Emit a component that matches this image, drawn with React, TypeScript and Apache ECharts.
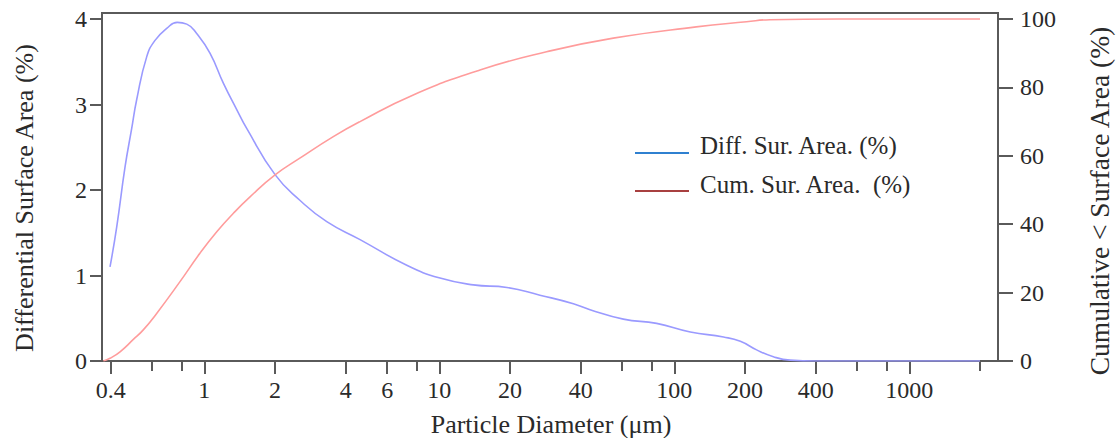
import React, { useEffect, useRef } from "react";
import * as echarts from "echarts";

// Differential surface area (%) vs particle diameter (um)
const diffDiameters = [0.397, 0.424, 0.46, 0.491, 0.515, 0.569, 0.617, 0.692, 0.767, 0.842, 0.928, 1.057, 1.205, 1.374, 1.515, 2.0, 2.55, 3.32, 4.6, 7.27, 10.07, 13.96, 19.4, 26.8, 37.2, 43.8, 60.7, 84.1, 117, 162, 191, 224, 264, 311, 400, 1000, 2000];
const diffValues = [1.1, 1.57, 2.27, 2.72, 3.05, 3.56, 3.75, 3.89, 3.96, 3.94, 3.83, 3.6, 3.25, 2.94, 2.72, 2.18, 1.88, 1.63, 1.42, 1.12, 0.97, 0.89, 0.86, 0.77, 0.67, 0.6, 0.49, 0.44, 0.34, 0.28, 0.23, 0.13, 0.05, 0.01, 0, 0, 0];

// Cumulative < surface area (%)
const cumDiameters = [0.372, 0.397, 0.438, 0.499, 0.55, 0.627, 0.788, 0.958, 1.13, 1.33, 1.565, 2.0, 2.55, 3.54, 4.6, 7.75, 14.9, 28.6, 55, 124, 203, 255, 500, 1000, 2000];
const cumValues = [0, 0.8, 2.7, 6.3, 9.1, 13.9, 23.2, 31.5, 37.8, 43.2, 48.0, 54.4, 59.3, 65.6, 70.0, 77.8, 85.1, 90.4, 94.4, 97.7, 99.2, 99.8, 100, 100, 100];

const xLabelTicks = [0.4, 1, 2, 4, 6, 10, 20, 40, 100, 200, 400, 1000];
const xMinorTicks = [0.6, 0.8, 8, 60, 80, 600, 800, 2000];
const leftTicks = [0, 1, 2, 3, 4];
const rightTicks = [0, 20, 40, 60, 80, 100];

const seriesNames = ["Diff. Sur. Area. (%)", "Cum. Sur. Area.  (%)"];
const xTitle = "Particle Diameter (\u03bcm)";
const leftTitle = "Differential Surface Area (%)";
const rightTitle = "Cumulative < Surface Area (%)";

const W = 1117;
const H = 438;
const gridLeft = 102;
const gridRight = 998;
const gridTop = 13;
const gridBottom = 361;
const decadePx = 235;
const onePx = 204.3;
const xMin = (gridLeft - onePx) / decadePx;
const xMax = (gridRight - onePx) / decadePx;
const y4Px = 19;
const leftMax = 4 * (gridBottom - gridTop) / (gridBottom - y4Px);
const rightMax = 100 * (gridBottom - gridTop) / (gridBottom - y4Px);

const FONT = "'Liberation Serif', 'Times New Roman', serif";
const TEXT = "#2a2a2a";
const AXIS = "#5a5a5a";

const lg = (v: number) => Math.log10(v);
const fmt = (v: number) => {
  const d = Math.pow(10, v);
  const r = d < 1 ? Math.round(d * 10) / 10 : Math.round(d);
  return String(r);
};

export default function App() {
  const ref = useRef<HTMLDivElement>(null);
  useEffect(() => {
    if (!ref.current) return;
    const chart = echarts.init(ref.current, undefined, { renderer: "svg" });
    const option: any = {
      animation: false,
      backgroundColor: "#ffffff",
      grid: {
        left: gridLeft,
        right: W - gridRight,
        top: gridTop,
        bottom: H - gridBottom,
        show: true,
        borderColor: AXIS,
        borderWidth: 2,
      },
      xAxis: [
        {
          type: "value",
          min: xMin,
          max: xMax,
          position: "bottom",
          axisLine: { show: true, onZero: false, lineStyle: { color: AXIS, width: 2 } },
          axisTick: { show: true, length: 13, customValues: xLabelTicks.map(lg), lineStyle: { color: AXIS, width: 2 } },
          axisLabel: {
            show: true,
            customValues: xLabelTicks.map(lg),
            formatter: (v: number) => fmt(v),
            fontFamily: FONT,
            fontSize: 24,
            color: TEXT,
            margin: 17,
          },
          splitLine: { show: false },
        },
        {
          type: "value",
          min: xMin,
          max: xMax,
          position: "bottom",
          axisLine: { show: false, onZero: false },
          axisTick: { show: true, length: 10, customValues: xMinorTicks.map(lg), lineStyle: { color: AXIS, width: 2 } },
          axisLabel: { show: false },
          splitLine: { show: false },
        },
      ],
      yAxis: [
        {
          type: "value",
          min: 0,
          max: leftMax,
          position: "left",
          axisLine: { show: true, onZero: false, lineStyle: { color: AXIS, width: 2 } },
          axisTick: { show: true, length: 12, customValues: leftTicks, lineStyle: { color: AXIS, width: 2 } },
          axisLabel: {
            customValues: leftTicks,
            fontFamily: FONT,
            fontSize: 24,
            color: TEXT,
            margin: 15,
          },
          splitLine: { show: false },
        },
        {
          type: "value",
          min: 0,
          max: rightMax,
          position: "right",
          axisLine: { show: true, onZero: false, lineStyle: { color: AXIS, width: 2 } },
          axisTick: { show: true, length: 15, customValues: rightTicks, lineStyle: { color: AXIS, width: 2 } },
          axisLabel: {
            customValues: rightTicks,
            fontFamily: FONT,
            fontSize: 24,
            color: TEXT,
            margin: 22,
          },
          splitLine: { show: false },
        },
      ],
      series: [
        {
          name: seriesNames[0],
          type: "line",
          xAxisIndex: 0,
          yAxisIndex: 0,
          data: diffDiameters.map((d, i) => [lg(d), diffValues[i]]),
          showSymbol: false,
          smooth: 0.5,
          lineStyle: { color: "#9a9aff", width: 1.6 },
          clip: true,
        },
        {
          name: seriesNames[1],
          type: "line",
          xAxisIndex: 0,
          yAxisIndex: 1,
          data: cumDiameters.map((d, i) => [lg(d), cumValues[i]]),
          showSymbol: false,
          smooth: 0.5,
          lineStyle: { color: "#ff9c9c", width: 1.6 },
          clip: true,
        },
      ],
      graphic: [
        {
          type: "text",
          x: 551,
          y: 424,
          style: { text: xTitle, fontFamily: FONT, fontSize: 26, fill: TEXT, align: "center", verticalAlign: "middle" },
        },
        {
          type: "text",
          x: 24,
          y: 198,
          rotation: Math.PI / 2,
          style: { text: leftTitle, fontFamily: FONT, fontSize: 26, fill: TEXT, align: "center", verticalAlign: "middle" },
        },
        {
          type: "text",
          x: 1099,
          y: 201,
          rotation: Math.PI / 2,
          style: { text: rightTitle, fontFamily: FONT, fontSize: 27.5, fill: TEXT, align: "center", verticalAlign: "middle" },
        },
        {
          type: "line",
          shape: { x1: 635, y1: 153, x2: 689, y2: 153 },
          style: { stroke: "#2f80d0", lineWidth: 2 },
        },
        {
          type: "text",
          x: 700,
          y: 145,
          style: { text: seriesNames[0], fontFamily: FONT, fontSize: 25, fill: TEXT, align: "left", verticalAlign: "middle" },
        },
        {
          type: "line",
          shape: { x1: 635, y1: 191, x2: 689, y2: 191 },
          style: { stroke: "#a84040", lineWidth: 2 },
        },
        {
          type: "text",
          x: 700,
          y: 184,
          style: { text: seriesNames[1], fontFamily: FONT, fontSize: 25, fill: TEXT, align: "left", verticalAlign: "middle" },
        },
      ],
    };
    chart.setOption(option);
    return () => chart.dispose();
  }, []);
  return (
    <div
      ref={ref}
      style={{ position: "fixed", left: 0, top: 0, width: W, height: H, background: "#fff" }}
    />
  );
}
